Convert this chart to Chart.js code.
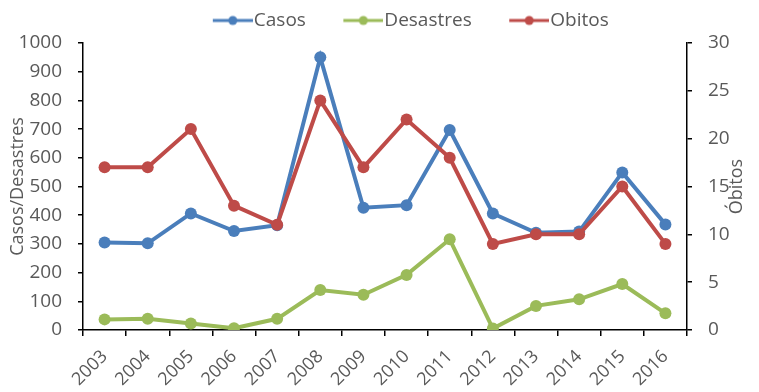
<!DOCTYPE html>
<html>
<head>
<meta charset="utf-8">
<script src="https://cdn.jsdelivr.net/npm/chart.js@4.4.1/dist/chart.umd.min.js"></script>
<style>
  html, body { margin: 0; padding: 0; background: #fff; }
  #wrap { width: 759px; height: 392px; position: relative; }
</style>
</head>
<body>
<div id="wrap"><canvas id="c" width="759" height="392"></canvas></div>
<script>
// Yearly series
const years = ['2003','2004','2005','2006','2007','2008','2009','2010','2011','2012','2013','2014','2015','2016'];
const casos = [305, 302, 406, 345, 365, 950, 426, 435, 697, 406, 339, 343, 549, 368];
const desastres = [37, 39, 23, 6, 39, 139, 123, 192, 316, 5, 84, 107, 160, 58];
const obitos = [17, 17, 21, 13, 11, 24, 17, 22, 18, 9, 10, 10, 15, 9];

const leftTicks = [0, 100, 200, 300, 400, 500, 600, 700, 800, 900, 1000];
const rightTicks = [0, 5, 10, 15, 20, 25, 30];

const BLUE = '#4A7EBB';
const GREEN = '#9BBB59';
const RED = '#BE4B48';
const TEXT = '#595959';
const FONT = "'Open Sans', 'Liberation Sans', sans-serif";

// Line-and-dot legend marker; the visible part sits at the right of the image
const MARK_W = 75;
function marker(color) {
  const c = document.createElement('canvas');
  c.width = MARK_W; c.height = 14;
  const g = c.getContext('2d');
  const x0 = MARK_W - 40;
  g.strokeStyle = color; g.lineWidth = 3;
  g.beginPath(); g.moveTo(x0, 7); g.lineTo(MARK_W, 7); g.stroke();
  g.fillStyle = color;
  g.beginPath(); g.arc(x0 + 20, 7, 4.5, 0, Math.PI * 2); g.fill();
  return c;
}
const markers = [marker(BLUE), marker(GREEN), marker(RED)];

// Legend box height and horizontal offset
const LEGEND_H = 43, LEGEND_DX = 18;
const legendTweak = {
  id: 'legendTweak',
  afterInit(chart) {
    const lg = chart.legend;
    const fit = lg.fit;
    lg.fit = function () { fit.call(this); this.height = LEGEND_H; };
  },
  afterLayout(chart) {
    const lg = chart.legend;
    lg.left += LEGEND_DX; lg.right += LEGEND_DX;
  }
};

// Right-hand axis title, reading bottom to top
const rightTitle = {
  id: 'rightTitle',
  afterDraw(chart) {
    const ctx = chart.ctx;
    const s = chart.scales.y2;
    ctx.save();
    ctx.translate(737, (s.top + s.bottom) / 2);
    ctx.rotate(-Math.PI / 2);
    ctx.font = "18px " + FONT;
    ctx.fillStyle = TEXT;
    ctx.textAlign = 'center';
    ctx.textBaseline = 'middle';
    ctx.fillText('Óbitos', 0, 0);
    ctx.restore();
  }
};

function line(label, data, color, axis, order) {
  return {
    label, data, yAxisID: axis, order,
    borderColor: color, backgroundColor: color,
    pointBackgroundColor: color, pointBorderColor: color,
    borderWidth: 4, pointRadius: 6, pointBorderWidth: 0,
    tension: 0, fill: false
  };
}

const plain = v => String(v);

new Chart(document.getElementById('c'), {
  type: 'line',
  data: {
    labels: years,
    datasets: [
      line('Casos', casos, BLUE, 'y', 2),
      line('Desastres', desastres, GREEN, 'y', 1),
      line('Obitos', obitos, RED, 'y2', 0)
    ]
  },
  options: {
    responsive: false,
    animation: false,
    devicePixelRatio: 1,
    layout: { padding: 0 },
    plugins: {
      tooltip: { enabled: false },
      legend: {
        position: 'top',
        labels: {
          usePointStyle: true,
          pointStyleWidth: 58,
          padding: 11,
          color: TEXT,
          font: { family: FONT, size: 19 },
          sort: (a, b) => a.datasetIndex - b.datasetIndex,
          generateLabels(chart) {
            const items = Chart.defaults.plugins.legend.labels.generateLabels(chart);
            items.forEach(it => { it.pointStyle = markers[it.datasetIndex]; });
            return items;
          }
        }
      }
    },
    scales: {
      x: {
        offset: true,
        grid: { display: true, offset: true, drawOnChartArea: false, color: '#000', tickLength: 6, lineWidth: 1.5 },
        border: { color: '#000', width: 1.5 },
        ticks: { color: TEXT, font: { family: FONT, size: 18 }, minRotation: 45, maxRotation: 45, padding: 10, autoSkip: false },
        afterFit(s) { s.height = 62; }
      },
      y: {
        position: 'left',
        min: 0, max: 1000,
        afterBuildTicks(s) { s.ticks = leftTicks.map(v => ({ value: v })); },
        grid: { display: true, drawOnChartArea: false, color: '#000', tickLength: 5, lineWidth: 1.5 },
        border: { color: '#000', width: 1.5 },
        ticks: { color: TEXT, font: { family: FONT, size: 19 }, padding: 16, callback: plain },
        title: { display: true, text: 'Casos/Desastres', color: TEXT, font: { family: FONT, size: 18 }, padding: { top: 7, bottom: 0 } },
        afterFit(s) { s.width = 83; }
      },
      y2: {
        position: 'right',
        min: 0, max: 30,
        afterBuildTicks(s) { s.ticks = rightTicks.map(v => ({ value: v })); },
        grid: { display: true, drawOnChartArea: false, color: '#000', tickLength: 5, lineWidth: 1.5 },
        border: { color: '#000', width: 1.5 },
        ticks: { color: TEXT, font: { family: FONT, size: 19 }, padding: 16, callback: plain },
        afterFit(s) { s.width = 72; }
      }
    }
  },
  plugins: [legendTweak, rightTitle]
});
</script>
</body>
</html>
